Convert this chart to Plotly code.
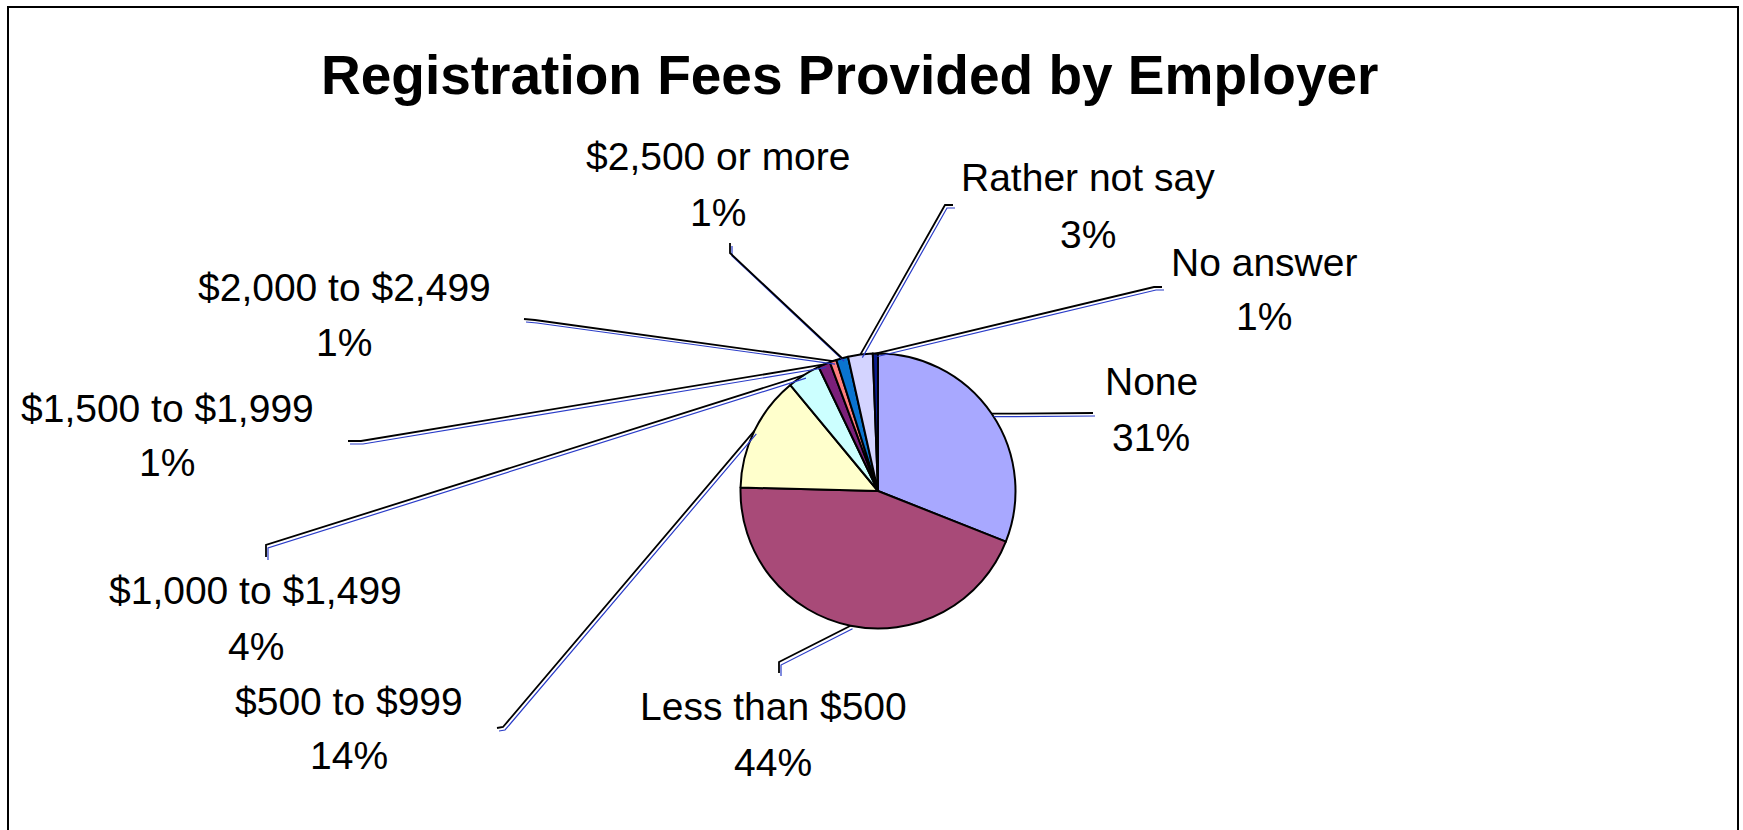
import math
import plotly.graph_objects as go

# ---------------- data ----------------
categories = ["None", "Less than $500", "$500 to $999", "$1,000 to $1,499",
              "$1,500 to $1,999", "$2,000 to $2,499", "$2,500 or more",
              "Rather not say", "No answer"]
values = [31.0, 44.4, 13.6, 3.9, 1.4, 0.8, 1.4, 2.9, 0.6]
colors = ["#A8A8FF", "#A84A78", "#FFFFCC", "#CCFFFF", "#7B1F7A",
          "#FF8080", "#0A74CF", "#D4D4FF", "#0A1D8F"]
title = "Registration Fees Provided by Employer"

# ---------------- layout (pixels) ----------------
W, H = 1743, 830
CX, CY, R = 878, 491, 137.5
FONT = "Liberation Sans, Arial, sans-serif"

# label placement: (center x, line1 y, line2 y, [label-end point, elbow point])
label_pos = {
    "None": (1151, 381, 437, [(1093, 413), (1093, 413)]),
    "Less than $500": (773, 706, 762, [(779, 673), (779, 662)]),
    "$500 to $999": (349, 701, 755, [(497, 728), (503, 727)]),
    "$1,000 to $1,499": (256, 590, 646, [(266, 557), (266, 545)]),
    "$1,500 to $1,999": (167, 408, 462, [(348, 441), (361, 441)]),
    "$2,000 to $2,499": (344, 287, 342, [(524, 319), (535, 320)]),
    "$2,500 or more": (718, 157, 212, [(730, 243), (730, 253)]),
    "Rather not say": (1088, 177, 234, [(953, 205), (945, 205)]),
    "No answer": (1264, 262, 316, [(1162, 287), (1154, 287)]),
}


def px(x):
    return x / W


def py(y):
    return 1 - y / H


fig = go.Figure()
fig.add_trace(go.Pie(
    labels=categories, values=values, sort=False, direction="clockwise",
    rotation=0, textinfo="none", hoverinfo="label+percent",
    marker=dict(colors=colors, line=dict(color="black", width=2)),
    domain=dict(x=[px(CX - R), px(CX + R)], y=[py(CY + R), py(CY - R)]),
    showlegend=False,
))

total = sum(values)
annotations = []
shapes = []
cum = 0.0
for name, v in zip(categories, values):
    mid = (cum + v / 2) / total * 2 * math.pi
    cum += v
    ex, ey = CX + R * math.sin(mid), CY - R * math.cos(mid)
    lx, y1, y2, pts = label_pos[name]
    pct = f"{round(v / total * 100)}%"
    for txt, yy in ((name, y1), (pct, y2)):
        annotations.append(dict(
            x=px(lx), y=py(yy), xref="paper", yref="paper", text=txt,
            showarrow=False, xanchor="center", yanchor="middle",
            font=dict(family=FONT, size=39, color="black")))
    all_pts = pts + [(ex, ey)]
    for dx, dy, col, wd in ((2, 3, "#2a3cc8", 1.2), (0, 0, "black", 1.8)):
        path = "M " + " L ".join(f"{px(x + dx)},{py(y + dy)}" for x, y in all_pts)
        shapes.append(dict(type="path", xref="paper", yref="paper", path=path,
                           line=dict(color=col, width=wd)))

# title
annotations.append(dict(x=px(850), y=py(75), xref="paper", yref="paper",
                        text=f"<b>{title}</b>", showarrow=False,
                        xanchor="center", yanchor="middle",
                        font=dict(family=FONT, size=55, color="black")))

# frame
shapes.append(dict(type="rect", xref="paper", yref="paper",
                   x0=px(8), x1=px(1738), y0=py(845), y1=py(7),
                   line=dict(color="black", width=2)))

fig.update_layout(
    width=W, height=H, margin=dict(l=0, r=0, t=0, b=0),
    paper_bgcolor="white", plot_bgcolor="white",
    annotations=annotations, shapes=shapes, showlegend=False,
)
fig.write_html("out.html", config={"displayModeBar": False},
               post_script="document.body.style.margin='0';document.body.style.overflow='hidden';")
